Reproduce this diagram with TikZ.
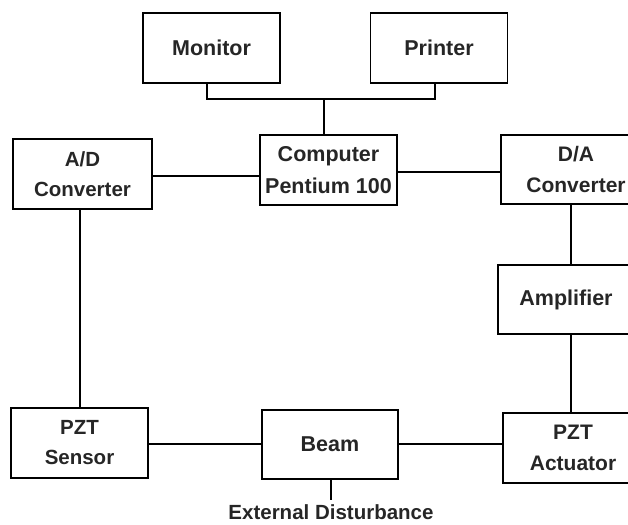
\documentclass[tikz,border=0pt]{standalone}
\usepackage{fontspec}
\setmainfont{Liberation Sans}
\begin{document}
\begin{tikzpicture}[x=1pt,y=-1pt,
  blk/.style={draw=black,line width=1.3pt,rectangle,inner sep=0pt,align=center,
    font=\fontsize{21.5}{32}\selectfont\bfseries,text=black!85,minimum width=137pt,minimum height=70pt},
  wire/.style={draw=black,line width=1.3pt}]
\useasboundingbox (0,0) rectangle (628,524);
\clip (0,0) rectangle (628,524);
\node[blk] (mon) at (211.5,48) {Monitor};
\node[blk] (prn) at (439,48) {Printer};
\node[blk] (comp) at (328.5,170) {Computer\\Pentium 100};
\node[blk,minimum width=139pt,font=\fontsize{20.5}{30}\selectfont\bfseries] (ad) at (82.5,174) {A/D\\Converter};
\node[blk,minimum width=150pt,minimum height=69pt,font=\fontsize{21}{31}\selectfont\bfseries] (da) at (576,169.5) {D/A\\Converter};
\node[blk,minimum width=136pt,minimum height=69pt] (amp) at (566,299.5) {Amplifier};
\node[blk,font=\fontsize{20.5}{30}\selectfont\bfseries] (sens) at (79.5,443) {PZT\\Sensor};
\node[blk,minimum width=136pt,minimum height=69pt] (beam) at (330,444.5) {Beam};
\node[blk,minimum width=140pt,font=\fontsize{21}{31}\selectfont\bfseries] (act) at (573,448) {PZT\\Actuator};
\node[font=\fontsize{20.5}{24}\selectfont\bfseries,text=black!85] (ext) at (331,512) {External Disturbance};
\coordinate (bus) at (324,99);
\coordinate (dist) at (331,500);
% top bus
\draw[wire] ([xshift=-4.5pt]mon.south) |- (bus) -| ([xshift=-4pt]prn.south);
\draw[wire] ([xshift=-4.5pt]comp.north) -- (bus);
% horizontal links
\draw[wire] (ad.east |- 0,176) -- (comp.west |- 0,176);
\draw[wire] (comp.east |- 0,172) -- (da.west |- 0,172);
\draw[wire] (sens.east |- 0,444) -- (beam.west |- 0,444);
\draw[wire] (beam.east |- 0,444) -- (act.west |- 0,444);
% vertical links
\draw[wire] (ad.south -| 80,0) -- (sens.north -| 80,0);
\draw[wire] (da.south -| 571,0) -- (amp.north -| 571,0);
\draw[wire] (amp.south -| 571,0) -- (act.north -| 571,0);
\draw[wire] (beam.south -| dist) -- (dist);
\end{tikzpicture}
\end{document}
